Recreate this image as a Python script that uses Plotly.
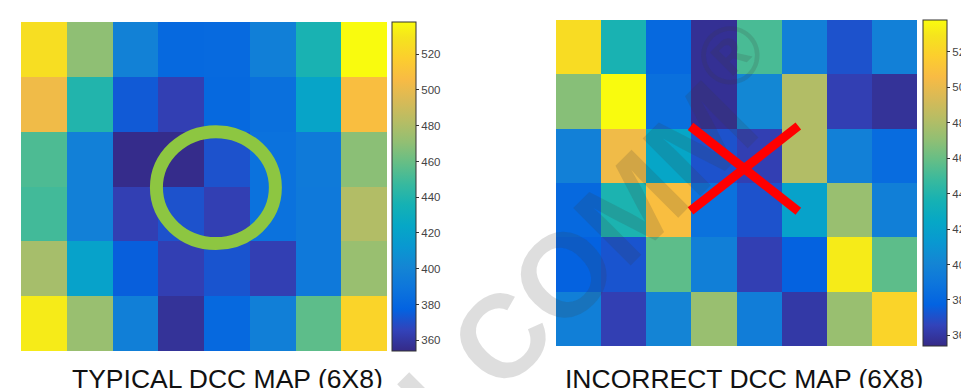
import plotly.graph_objects as go

# ---------------- data ----------------
typical_z = [
    [526, 470, 398, 381, 382, 396, 437, 538],
    [503, 440, 374, 364, 381, 386, 422, 508],
    [453, 397, 355, 355, 371, 387, 393, 469],
    [450, 397, 364, 371, 364, 387, 392, 481],
    [477, 420, 376, 364, 372, 364, 392, 473],
    [532, 473, 396, 358, 381, 396, 457, 521],
]
incorrect_z = [
    [525, 437, 381, 357, 452, 397, 371, 397],
    [468, 538, 386, 357, 402, 481, 364, 358],
    [397, 503, 423, 371, 364, 481, 397, 383],
    [381, 438, 508, 387, 371, 420, 473, 396],
    [377, 372, 457, 396, 364, 377, 532, 457],
    [396, 364, 400, 473, 395, 361, 473, 521],
]
cols = list(range(8))
rows = list(range(6))
cb_ticks = [360, 380, 400, 420, 440, 460, 480, 500, 520]
z_min, z_max = 354, 538
titles = ["TYPICAL DCC MAP (6X8)", "INCORRECT DCC MAP (6X8)"]
watermark = "QUALCOMM<sup>®</sup>"

# MATLAB parula colormap (subsampled)
parula = [
    (0.2081, 0.1663, 0.5292), (0.1959, 0.2645, 0.7279), (0.0117, 0.3875, 0.8820),
    (0.0498, 0.4586, 0.8641), (0.0793, 0.5200, 0.8312), (0.0343, 0.5966, 0.8199),
    (0.0228, 0.6535, 0.7768), (0.0843, 0.6928, 0.7062), (0.2178, 0.7250, 0.6193),
    (0.3953, 0.7459, 0.5244), (0.5709, 0.7485, 0.4494), (0.7184, 0.7411, 0.3905),
    (0.8507, 0.7299, 0.3360), (0.9739, 0.7314, 0.2666), (0.9880, 0.8066, 0.1794),
    (0.9589, 0.8949, 0.1132), (0.9763, 0.9831, 0.0538),
]
row_idx = [1, 5, 9, 13, 17, 21, 25, 29, 33, 37, 41, 45, 49, 53, 57, 61, 64]
colorscale = [[(i - 1) / 63, "rgb(%d,%d,%d)" % tuple(round(c * 255) for c in rgb)]
              for i, rgb in zip(row_idx, parula)]

W, H = 969, 388
def px(x):
    return x / W
def py(y):
    return 1 - y / H

tick_font = dict(family="Liberation Sans, Arial, sans-serif", size=11.5, color="#444")

def cbar(x_left, top, bottom):
    return dict(
        x=px(x_left), xanchor="left", xpad=0,
        y=py(top), yanchor="top", ypad=0,
        len=(bottom - top) / H, lenmode="fraction",
        thickness=24, thicknessmode="pixels",
        outlinewidth=1, outlinecolor="#333",
        tickvals=cb_ticks, ticks="outside", ticklen=3, tickcolor="#333",
        tickfont=tick_font,
    )

fig = go.Figure()
fig.add_trace(go.Heatmap(
    z=typical_z, x=cols, y=rows, xaxis="x", yaxis="y",
    colorscale=colorscale, zmin=z_min, zmax=z_max,
    colorbar=cbar(384, 14, 343), hoverinfo="skip",
))
fig.add_trace(go.Heatmap(
    z=incorrect_z, x=cols, y=rows, xaxis="x2", yaxis="y2",
    colorscale=colorscale, zmin=z_min, zmax=z_max,
    colorbar=cbar(915, 12, 338), hoverinfo="skip",
))

hidden = dict(visible=False, showgrid=False, zeroline=False)
fig.update_layout(
    width=W, height=H,
    margin=dict(l=0, r=0, t=0, b=0, autoexpand=False),
    paper_bgcolor="white", plot_bgcolor="white",
    showlegend=False,
    xaxis=dict(domain=[px(13), px(379)], range=[-0.5, 7.5], anchor="y", **hidden),
    yaxis=dict(domain=[py(343), py(14)], range=[5.5, -0.5], anchor="x", **hidden),
    xaxis2=dict(domain=[px(548), px(909)], range=[-0.5, 7.5], anchor="y2", **hidden),
    yaxis2=dict(domain=[py(338), py(12)], range=[5.5, -0.5], anchor="x2", **hidden),
)

# green circle on the typical map
fig.add_shape(type="circle", xref="x", yref="y",
              x0=2.46, x1=5.06, y0=1.50, y1=3.54,
              line=dict(color="#8dc641", width=13), layer="above")

# watermark
fig.add_annotation(
    xref="paper", yref="paper", x=px(492), y=py(318),
    xanchor="center", yanchor="middle",
    text=watermark, textangle=-45, showarrow=False,
    font=dict(family="Liberation Sans, Arial, sans-serif", size=118,
              color="rgba(60,60,60,0.17)", weight="bold"),
)

# red X on the incorrect map
for (x0, y0, x1, y1) in [(2.47, 1.45, 4.87, 3.02), (2.47, 3.02, 4.87, 1.45)]:
    fig.add_annotation(
        xref="x2", yref="y2", axref="x2", ayref="y2",
        x=x1, y=y1, ax=x0, ay=y0, text="", showarrow=True,
        arrowhead=0, arrowwidth=9, arrowcolor="#ff0000",
        standoff=0, startstandoff=0, borderpad=0, font=dict(size=1),
    )

# titles
title_font = dict(family="Liberation Sans, Arial, sans-serif", size=26.5, color="#111")
for t, cx in zip(titles, [219, 736]):
    fig.add_annotation(xref="paper", yref="paper", x=px(cx), y=py(371),
                       text=t, showarrow=False, font=title_font,
                       xanchor="center", yanchor="middle")

fig.write_html("out.html")
